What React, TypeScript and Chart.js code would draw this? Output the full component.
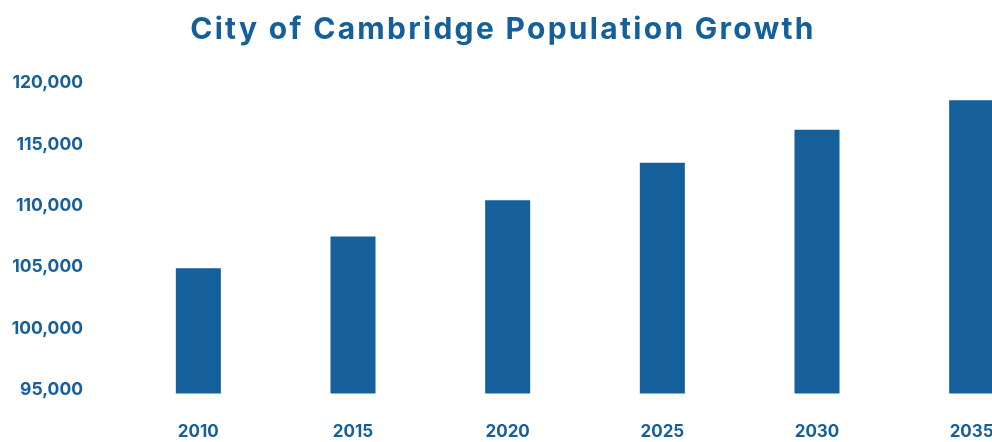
import { useEffect, useRef } from "react";
import { Chart, registerables } from "chart.js";

Chart.register(...registerables);

// ─── Data ─────────────────────────────────────────────
const YEARS = ["2010", "2015", "2020", "2025", "2030", "2035"];
const POPULATION = [104900, 107500, 110450, 113500, 116200, 118600];
const Y_TICKS = [95000, 100000, 105000, 110000, 115000, 120000];

const BLUE = "#155f9b";
const FONT = "Inter, 'Noto Sans', sans-serif";

export default function App() {
  const canvasRef = useRef<HTMLCanvasElement>(null);

  useEffect(() => {
    document.body.style.margin = "0";
    document.body.style.overflow = "hidden";
    if (!canvasRef.current) return;

    const chart = new Chart(canvasRef.current, {
      type: "bar",
      data: {
        labels: YEARS,
        datasets: [{
          label: "Population",
          data: POPULATION,
          backgroundColor: BLUE,
          borderWidth: 0,
          barPercentage: 0.291,
          categoryPercentage: 1,
        }],
      },
      options: {
        animation: false,
        responsive: true,
        maintainAspectRatio: false,
        layout: { padding: { top: 83, right: 0, bottom: 0, left: 0 } },
        plugins: {
          legend: { display: false },
          tooltip: { enabled: false },
        },
        scales: {
          x: {
            grid: { display: false, drawTicks: false },
            border: { display: false },
            ticks: {
              color: BLUE,
              font: { family: FONT, size: 17, weight: "bold" },
              padding: 28,
              maxRotation: 0,
            },
            afterFit: (scale) => { scale.height = 46; },
          },
          y: {
            min: 94700,
            max: 120000,
            grid: { display: false, drawTicks: false },
            border: { display: false },
            afterBuildTicks: (scale) => {
              scale.ticks = Y_TICKS.map((v) => ({ value: v }));
            },
            ticks: {
              color: BLUE,
              font: { family: FONT, size: 17.5, weight: "bold" },
              padding: 38,
              callback: (v) => Number(v).toLocaleString("en-US"),
            },
            afterFit: (scale) => { scale.width = 121; },
          },
        },
      },
    });

    return () => chart.destroy();
  }, []);

  return (
    <div style={{ position: "relative", width: 992, height: 442, overflow: "hidden", background: "#fff" }}>
      <div style={{ position: "absolute", left: 0, top: 0, width: 1049, height: 442 }}>
        <canvas ref={canvasRef} />
      </div>
      <div style={{
        position: "absolute",
        left: 0,
        top: 9,
        width: 1006,
        textAlign: "center",
        fontFamily: FONT,
        fontWeight: 700,
        fontSize: 30,
        letterSpacing: "2.3px",
        lineHeight: "38px",
        color: BLUE,
      }}>
        City of Cambridge Population Growth
      </div>
    </div>
  );
}
